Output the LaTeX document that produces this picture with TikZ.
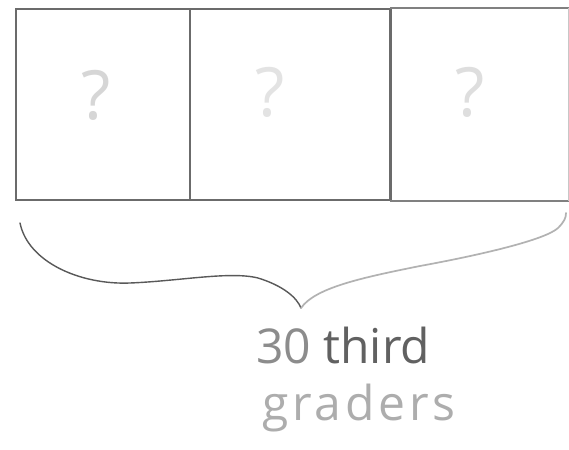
\documentclass[tikz,border=0pt]{standalone}
\usepackage{fontspec}
\setmainfont{Open Sans}
\begin{document}
\begin{tikzpicture}[x=1pt,y=-1pt,
  pencil/.style={draw=black!58,line width=1.8pt},
  cell/.style={pencil,rectangle,inner sep=0pt,minimum height=191pt,anchor=north west},
  qmark/.style={text=black!16,font=\fontsize{68}{70}\selectfont},
  hand/.style={font=\fontsize{48}{50}\selectfont,inner sep=0pt,anchor=base west}]
\useasboundingbox (0,0) rectangle (569,449);
\fill[white] (0,0) rectangle (569,449);
\node[cell,minimum width=174pt] (box1) at (15,8) {};
\node[cell,minimum width=201pt] (box2) at (189,8) {};
\node[cell,minimum width=177pt,draw=none] (box3) at (390,8) {};
\draw[pencil] (box3.north west) -- (box3.south west);
\draw[pencil,draw=black!50] (box3.north west) -- (box3.north east);
\draw[pencil,draw=black!50] (box3.south west) -- (box3.south east);
\draw[pencil,draw=black!22,line width=1pt] (box3.north east) -- (box3.south east);
\node[qmark] (q1) at (96,95) {?};
\node[qmark,text=black!11] (q2) at (270,92) {?};
\node[qmark,text=black!13] (q3) at (470,92) {?};
\coordinate (bl) at (20,223);
\coordinate (tip) at (301,308);
\coordinate (br) at (566,213);
\draw[draw=black!65,line width=1.4pt,line cap=round] (bl) .. controls (28,262) and (80,285) .. (130,283)
  .. controls (180,281) and (230,271) .. (258,278) .. controls (284,286) and (297,298) .. (tip);
\draw[draw=black!30,line width=1.7pt,line cap=round] (tip) .. controls (315,288) and (360,278) .. (420,266)
  .. controls (480,255) and (545,240) .. (558,228) .. controls (564,222) and (566,218) .. (br);
\node[hand] (l1) at (256,363) {\textcolor{black!45}{30} \textcolor{black!62}{third}};
\node[hand,text=black!32,font=\addfontfeatures{LetterSpace=8}\fontsize{48}{50}\selectfont] (l2) at (262,420) {graders};
\end{tikzpicture}
\end{document}
